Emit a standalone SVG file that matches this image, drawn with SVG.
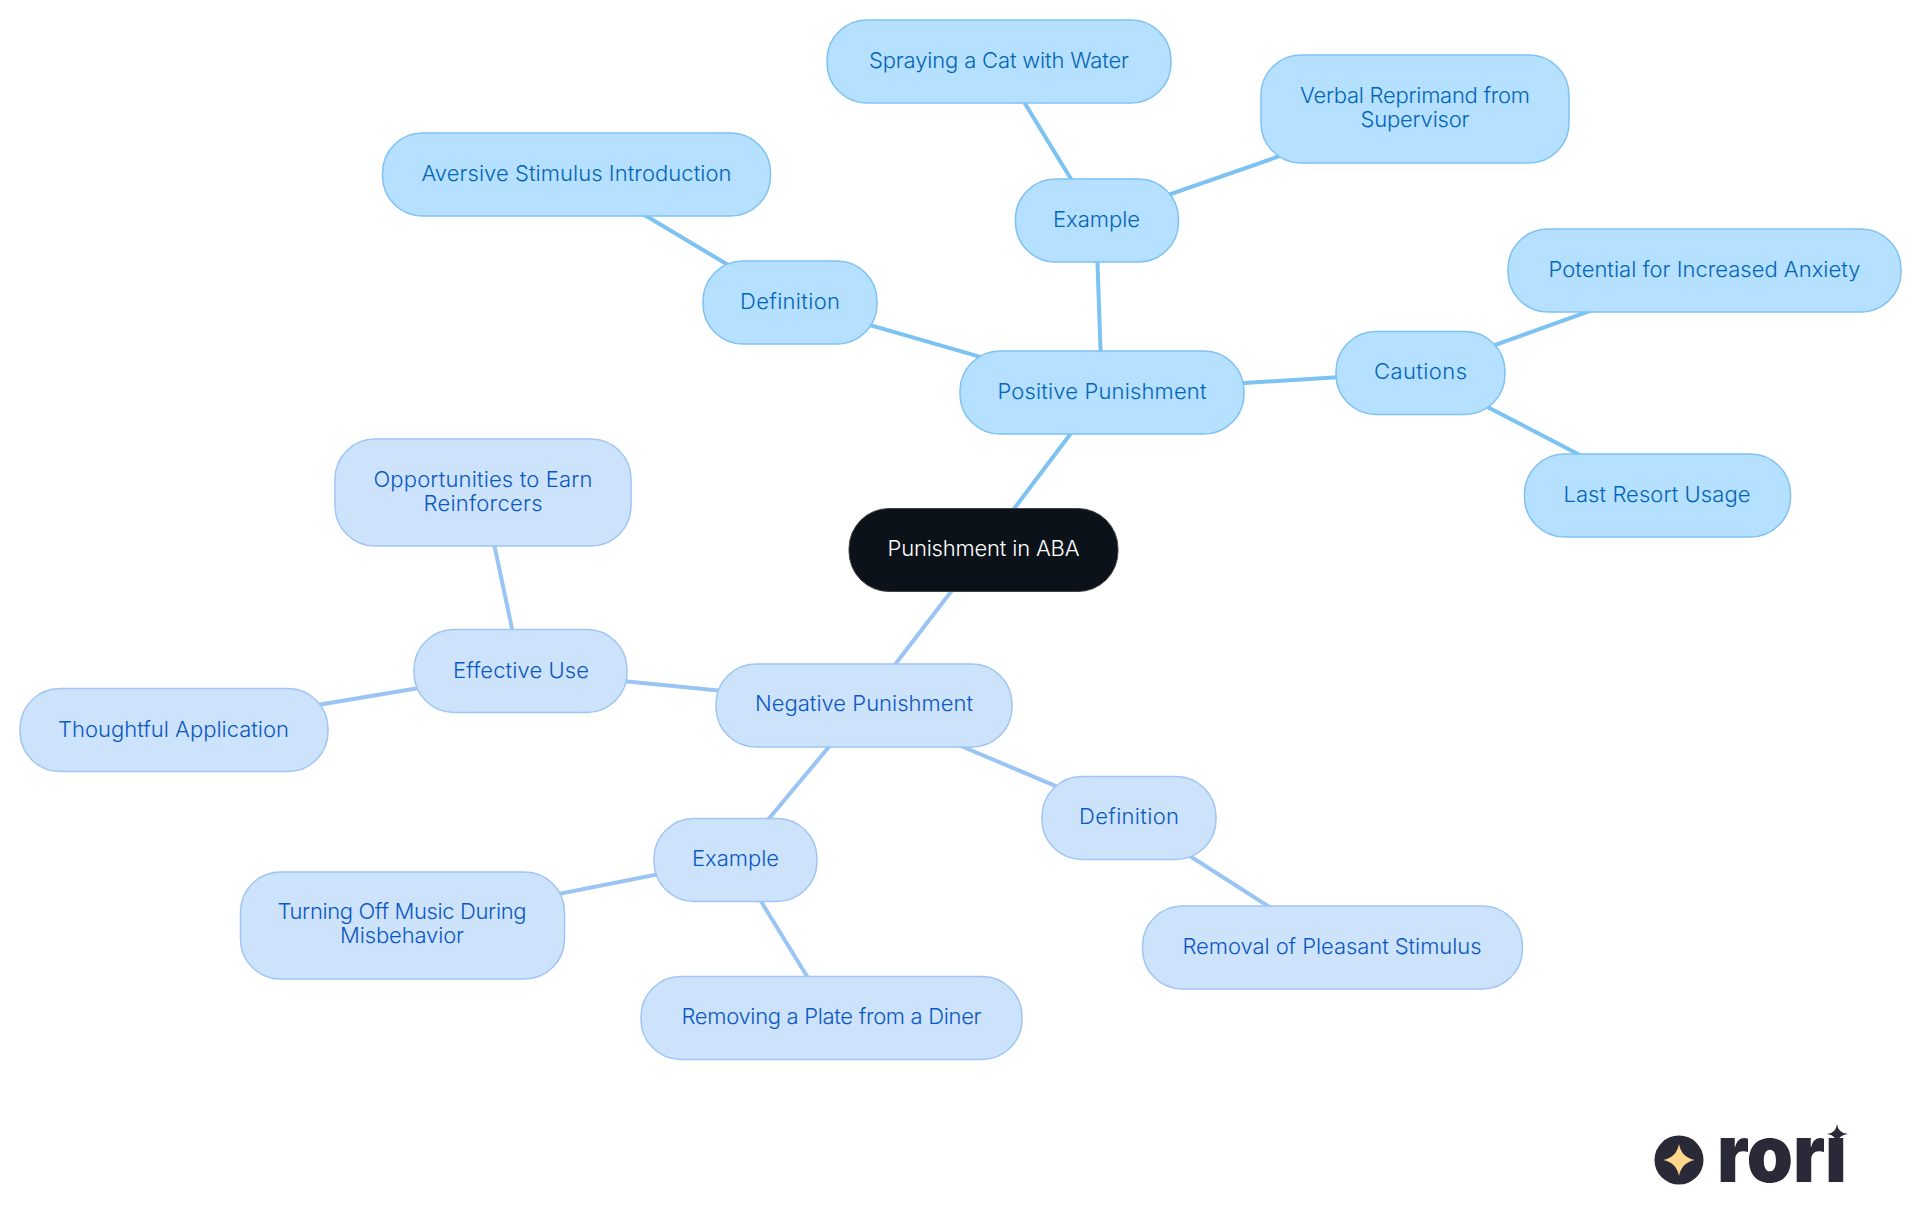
<svg xmlns="http://www.w3.org/2000/svg" width="1920" height="1215" viewBox="0 0 1920 1215">
<style>
text{font-family:Inter,"Noto Sans","Liberation Sans",sans-serif;font-size:22px;text-anchor:middle;font-weight:350}
.c line{stroke-width:4;fill:none}
.cp line{stroke:#7cc2f2}
.cn line{stroke:#9ac4f3}
.p rect{fill:#b5e0ff;stroke:#7fc2f2;stroke-width:1.5}
.p text{fill:#0365b8}
.n rect{fill:#cde3fc;stroke:#9fc5f3;stroke-width:1.5}
.n text{fill:#0b58c2}
.r rect{fill:#0c121a;stroke:#444;stroke-width:1}
.r text{fill:#fff}
</style>
<rect width="1920" height="1215" fill="#fff"/>
<g id="connectors" class="c">
<g class="cp">
<line x1="983" y1="550" x2="1102" y2="392"/>
<line x1="1102" y1="392" x2="1096" y2="220"/>
<line x1="1102" y1="392" x2="790" y2="302"/>
<line x1="1102" y1="392" x2="1420" y2="372"/>
<line x1="1096" y1="220" x2="999" y2="61"/>
<line x1="1096" y1="220" x2="1415" y2="109"/>
<line x1="790" y1="302" x2="576" y2="174"/>
<line x1="1420" y1="372" x2="1704" y2="270"/>
<line x1="1420" y1="372" x2="1657" y2="495"/>
</g>
<g class="cn">
<line x1="983" y1="550" x2="864" y2="705"/>
<line x1="864" y1="705" x2="521" y2="671"/>
<line x1="864" y1="705" x2="735" y2="859"/>
<line x1="864" y1="705" x2="1129" y2="817"/>
<line x1="521" y1="671" x2="483" y2="492"/>
<line x1="521" y1="671" x2="174" y2="729"/>
<line x1="735" y1="859" x2="402" y2="925"/>
<line x1="735" y1="859" x2="832" y2="1017"/>
<line x1="1129" y1="817" x2="1332" y2="947"/>
</g>
</g>
<g id="root" class="r"><rect x="849" y="508.500" width="269" height="83" rx="40"/><text x="983.500" y="556" textLength="192">Punishment in ABA</text></g>
<g id="positive" class="p"><rect x="960" y="351" width="284" height="83" rx="40"/><text x="1102" y="399" textLength="209">Positive Punishment</text></g>
<g id="p-def" class="p"><rect x="703" y="261" width="174" height="83" rx="40"/><text x="790" y="309" textLength="100">Definition</text></g>
<g id="p-ex" class="p"><rect x="1015.500" y="179" width="163" height="83" rx="40"/><text x="1096.500" y="227" textLength="87">Example</text></g>
<g id="p-cau" class="p"><rect x="1336" y="331.500" width="169" height="83" rx="40"/><text x="1420.500" y="379" textLength="93">Cautions</text></g>
<g id="p-spray" class="p"><rect x="827" y="20" width="344" height="83" rx="40"/><text x="999" y="68" textLength="260">Spraying a Cat with Water</text></g>
<g id="p-verbal" class="p"><rect x="1261" y="55" width="308" height="108" rx="40"/><text x="1415" y="103" textLength="230">Verbal Reprimand from</text><text x="1415" y="127" textLength="109">Supervisor</text></g>
<g id="p-aversive" class="p"><rect x="382.500" y="133" width="388" height="83" rx="40"/><text x="576.500" y="181" textLength="310">Aversive Stimulus Introduction</text></g>
<g id="p-anx" class="p"><rect x="1508" y="229" width="393" height="83" rx="40"/><text x="1704.500" y="277" textLength="312">Potential for Increased Anxiety</text></g>
<g id="p-last" class="p"><rect x="1524.500" y="454" width="266" height="83" rx="40"/><text x="1657" y="502" textLength="187">Last Resort Usage</text></g>
<g id="negative" class="n"><rect x="716" y="664" width="296" height="83" rx="40"/><text x="864" y="711" textLength="218">Negative Punishment</text></g>
<g id="n-eff" class="n"><rect x="414" y="629.500" width="213" height="83" rx="40"/><text x="521" y="678" textLength="136">Effective Use</text></g>
<g id="n-ex" class="n"><rect x="654" y="818.500" width="163" height="83" rx="40"/><text x="735.500" y="866" textLength="87">Example</text></g>
<g id="n-def" class="n"><rect x="1042" y="776.500" width="174" height="83" rx="40"/><text x="1129" y="824" textLength="100">Definition</text></g>
<g id="n-opp" class="n"><rect x="335" y="439" width="296" height="107" rx="40"/><text x="483" y="486.500" textLength="219">Opportunities to Earn</text><text x="483" y="510.500" textLength="119">Reinforcers</text></g>
<g id="n-tho" class="n"><rect x="20" y="688.500" width="308" height="83" rx="40"/><text x="173.500" y="736.500" textLength="231">Thoughtful Application</text></g>
<g id="n-turn" class="n"><rect x="240.500" y="872" width="324" height="107" rx="40"/><text x="402" y="919" textLength="249">Turning Off Music During</text><text x="402" y="943" textLength="124">Misbehavior</text></g>
<g id="n-plate" class="n"><rect x="641" y="976.500" width="381" height="83" rx="40"/><text x="831.500" y="1024" textLength="300">Removing a Plate from a Diner</text></g>
<g id="n-rem" class="n"><rect x="1142.500" y="906" width="380" height="83" rx="40"/><text x="1332" y="954" textLength="299">Removal of Pleasant Stimulus</text></g>
<g id="logo">
<defs><clipPath id="nodot"><rect x="1700" y="1137" width="160" height="50"/></clipPath></defs>
<circle cx="1679" cy="1160" r="24.500" fill="#2a2938"/>
<path d="M1679 1144Q1681.500 1157.500 1695 1160Q1681.500 1162.500 1679 1176Q1676.500 1162.500 1663 1160Q1676.500 1157.500 1679 1144Z" fill="#fdd88a"/>
<text x="1717" y="1182" clip-path="url(#nodot)" textLength="130" lengthAdjust="spacingAndGlyphs" style="font-size:80px;font-weight:900;text-anchor:start;fill:#2a2938">rori</text>
<path d="M1837 1124Q1838 1133 1848 1134Q1838 1135 1837 1144Q1836 1135 1827 1134Q1836 1133 1837 1124Z" fill="#2a2938"/>
</g>
</svg>
